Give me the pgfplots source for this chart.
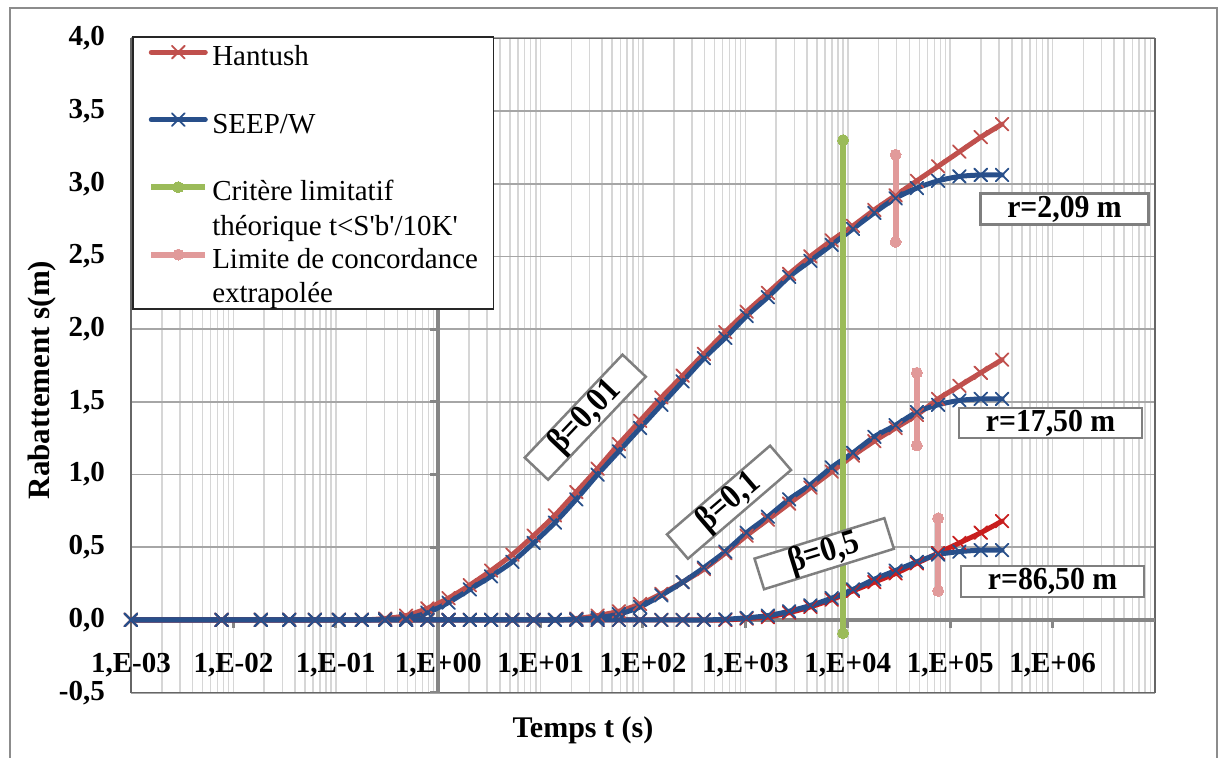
\documentclass[border=0pt]{standalone}
\usepackage{pgfplots}
\usepackage{pgfplotstable}
\pgfplotsset{compat=1.18}
\usepackage{fontspec}
\setmainfont{Liberation Serif}

\definecolor{hred}{HTML}{C0504D}
\definecolor{hdark}{HTML}{C81E1E}
\definecolor{sblue}{HTML}{284F8A}
\definecolor{cgreen}{HTML}{9BBB59}
\definecolor{cpink}{HTML}{E19A9A}
\definecolor{majgrid}{HTML}{A6A6A6}
\definecolor{mingrid}{HTML}{D6D6D6}
\definecolor{axdark}{HTML}{868686}
\definecolor{boxgray}{HTML}{7F7F7F}
\definecolor{framegray}{HTML}{8C8C8C}

% legend text cell with fixed height/depth; second line hangs below
\newcommand{\legrow}[1]{\raisebox{0pt}[28.65pt][6.65pt]{\begin{tabular}[t]{@{}l@{}}#1\end{tabular}}}

% drawdown s (m) versus time t (s): SEEP/W (s) and Hantush (h) for r = 2.09, 17.50, 86.50 m
\pgfplotstableread{
t       s209   h209  s175   h175  s865   h865
0.001   0      0     0      0     0      0
0.00769 0      0     0      0     0      0
0.0186  0      0     0      0     0      0
0.0351  0      0     0      0     0      0
0.0625  0      0     0      0     0      0
0.1074  0      0     0      0     0      0
0.1799  0      0     0      0     0      0
0.3027  0.005  0.01  0      0     0      0
0.4853  0.01   0.03  0      0     0      0
0.7834  0.05   0.08  0      0     0      0
1.261   0.12   0.15  0      0     0      0
2.035   0.21   0.24  0      0     0      0
3.285   0.30   0.34  0      0     0      0
5.303   0.40   0.45  0      0     0      0
8.559   0.53   0.58  0      0     0      0
13.82   0.67   0.72  0      0     0      0
22.30   0.83   0.88  0.005  0.01  0      0
35.99   1.00   1.04  0.015  0.03  0      0
58.08   1.16   1.21  0.04   0.06  0      0
93.74   1.32   1.37  0.09   0.11  0      0
151.3   1.48   1.53  0.17   0.18  0      0
244.2   1.64   1.68  0.26   0.26  0      0
394.1   1.80   1.83  0.36   0.35  0      0
636.1   1.94   1.98  0.47   0.46  0.005  0
1027    2.09   2.12  0.60   0.58  0.015  0.01
1657    2.22   2.25  0.71   0.69  0.03   0.02
2674    2.36   2.38  0.83   0.80  0.06   0.05
4317    2.47   2.50  0.93   0.91  0.10   0.09
6966    2.58   2.61  1.05   1.02  0.15   0.14
11240   2.69   2.71  1.15   1.13  0.21   0.20
18150   2.80   2.82  1.26   1.23  0.28   0.26
29290   2.90   2.92  1.34   1.32  0.34   0.32
47270   2.97   3.02  1.43   1.41  0.40   0.39
76300   3.02   3.12  1.48   1.52  0.45   0.46
123100  3.05   3.22  1.51   1.61  0.47   0.53
198800  3.06   3.32  1.52   1.70  0.48   0.60
320800  3.06   3.41  1.52   1.79  0.48   0.68
}\drawdown

\begin{document}
\begin{tikzpicture}[x=1pt,y=1pt]
\useasboundingbox (0,0) rectangle (1219,758);
\draw[framegray, line width=2pt] (9.5,750) rectangle (1217,-20);
\begin{axis}[
  at={(131pt,65.3pt)}, anchor=south west,
  scale only axis, width=1024pt, height=654.4pt,
  xmode=log, log basis x=10,
  xmin=1e-3, xmax=1e7, ymin=-0.5, ymax=4,
  xtick={1e-3,1e-2,1e-1,1,1e1,1e2,1e3,1e4,1e5,1e6},
  xticklabels={{1,E-03},{1,E-02},{1,E-01},{1,E+00},{1,E+01},{1,E+02},{1,E+03},{1,E+04},{1,E+05},{1,E+06}},
  minor xtick={2e-3,3e-3,4e-3,5e-3,6e-3,7e-3,8e-3,9e-3,
    2e-2,3e-2,4e-2,5e-2,6e-2,7e-2,8e-2,9e-2,
    2e-1,3e-1,4e-1,5e-1,6e-1,7e-1,8e-1,9e-1,
    2,3,4,5,6,7,8,9,
    20,30,40,50,60,70,80,90,
    200,300,400,500,600,700,800,900,
    2000,3000,4000,5000,6000,7000,8000,9000,
    2e4,3e4,4e4,5e4,6e4,7e4,8e4,9e4,
    2e5,3e5,4e5,5e5,6e5,7e5,8e5,9e5,
    2e6,3e6,4e6,5e6,6e6,7e6,8e6,9e6},
  ytick={-0.5,0,0.5,1,1.5,2,2.5,3,3.5,4},
  yticklabels={{-0,5},{0,0},{0,5},{1,0},{1,5},{2,0},{2,5},{3,0},{3,5},{4,0}},
  major tick length=0pt, minor tick length=0pt,
  xmajorgrids, xminorgrids, ymajorgrids,
  x grid style={mingrid, line width=1.5pt},
  y grid style={majgrid, line width=1.8pt},
  axis line style={draw=black!60, line width=1.5pt},
  xticklabel style={anchor=center, yshift=28pt, inner sep=0pt,
    font=\fontsize{29}{34}\selectfont\bfseries},
  yticklabel style={anchor=east, inner sep=0pt, xshift=-26pt,
    font=\fontsize{29}{34}\selectfont\bfseries},
  xlabel={Temps t (s)},
  ylabel={Rabattement s(m)},
  xlabel style={at={(axis description cs:0.4414,-0.057)}, anchor=center,
    inner sep=0pt, font=\fontsize{30}{36}\selectfont\bfseries},
  ylabel style={at={(axis description cs:-0.0869,0.478)}, anchor=center,
    inner sep=0pt, font=\fontsize{31}{36}\selectfont\bfseries},
  legend image code/.code={\draw[mark repeat=2,mark phase=2,#1]
    plot coordinates {(0pt,0pt) (27pt,0pt) (54pt,0pt)};},
  legend cell align=left,
  legend style={
    at={(axis description cs:0.001,1.0035)}, anchor=north west,
    draw=black!85, line width=1.5pt, fill=white,
    inner xsep=15.5pt, inner ysep=0.4pt,
    row sep=37.3pt, column sep=4pt,
    font=\fontsize{29}{34.5}\selectfont,
    cells={anchor=west},
    nodes={inner sep=0pt},
  },
  hant/.style={color=hred, line width=5pt, mark=x, mark size=9pt,
    mark options={solid, line width=1.8pt}, smooth, tension=0.45,
    line cap=round, line join=round},
  seep/.style={color=sblue, line width=5pt, mark=x, mark size=9pt,
    mark options={solid, line width=1.8pt}, smooth, tension=0.45,
    line cap=round, line join=round},
  bar/.style={line width=6pt, mark=*, mark size=5.5pt},
]
% axes through t = 1 s and s = 0
\draw[axdark, line width=4pt] (axis cs:1e-3,0) -- (axis cs:1e7,0);
\draw[axdark, line width=4pt] (axis cs:1,-0.5) -- (axis cs:1,4);
\pgfplotsinvokeforeach{1e-2,1e-1,1,1e1,1e2,1e3,1e4,1e5,1e6}{
  \draw[axdark, line width=3pt] (axis cs:#1,0) -- ++(0pt,-8pt);
}
\pgfplotsinvokeforeach{-0.5,0,0.5,1,1.5,2,2.5,3,3.5,4}{
  \draw[axdark, line width=3pt] (axis cs:1,#1) -- ++(-8pt,0pt);
}

\addplot[hant] table[x=t, y=h209] {\drawdown};
\addlegendentry{\legrow{Hantush}}
\addplot[seep] table[x=t, y=s209] {\drawdown};
\addlegendentry{\legrow{SEEP/W}}
\addplot[hant, forget plot] table[x=t, y=h175] {\drawdown};
\addplot[hant, color=hdark, forget plot] table[x=t, y=h865] {\drawdown};
\addplot[seep, forget plot] table[x=t, y=s175] {\drawdown};
\addplot[seep, forget plot] table[x=t, y=s865] {\drawdown};

% theoretical limit t < S'b'/10K'
\addplot[bar, color=cgreen, mark options={fill=cgreen, draw=cgreen, line width=0pt}]
  coordinates {(9000,-0.09) (9000,3.30)};
\addlegendentry{\legrow{Critère limitatif\\théorique t<S\textquotesingle b\textquotesingle/10K\textquotesingle}}
% extrapolated agreement limits
\addplot[bar, color=cpink, mark options={fill=cpink, draw=cpink, line width=0pt}]
  coordinates {(29290,2.60) (29290,3.20)};
\addlegendentry{\legrow{Limite de concordance\\extrapolée}}
\addplot[bar, color=cpink, forget plot, mark options={fill=cpink, draw=cpink, line width=0pt}]
  coordinates {(47270,1.20) (47270,1.70)};
\addplot[bar, color=cpink, forget plot, mark options={fill=cpink, draw=cpink, line width=0pt}]
  coordinates {(76300,0.20) (76300,0.70)};
\addlegendimage{empty legend}
\addlegendentry{}
\end{axis}

\tikzset{lbl/.style={draw=boxgray, line width=2.5pt, fill=white, inner sep=0pt,
  font=\fontsize{32}{36}\selectfont\bfseries, text=black}}
\node[lbl, minimum width=168pt, minimum height=31pt] at (1064.5,548.8) {\scalebox{0.93}[1]{r=2,09 m}};
\node[lbl, minimum width=183pt, minimum height=30pt] at (1050.5,335) {\scalebox{0.93}[1]{r=17,50 m}};
\node[lbl, minimum width=183pt, minimum height=31pt] at (1052.5,176.5) {\scalebox{0.93}[1]{r=86,50 m}};
\node[lbl, minimum width=142pt, minimum height=31pt, rotate=46.5,
  font=\fontsize{35}{38}\selectfont\bfseries] at (585.3,340.8) {\scalebox{0.88}[1]{β=0,01}};
\node[lbl, minimum width=136pt, minimum height=31pt, rotate=40.7,
  font=\fontsize{35}{38}\selectfont\bfseries] at (729,255.8) {\scalebox{0.88}[1]{β=0,1}};
\node[lbl, minimum width=136pt, minimum height=30pt, rotate=17.3,
  font=\fontsize{35}{38}\selectfont\bfseries] at (824.2,204.3) {\scalebox{0.88}[1]{β=0,5}};
\end{tikzpicture}
\end{document}
